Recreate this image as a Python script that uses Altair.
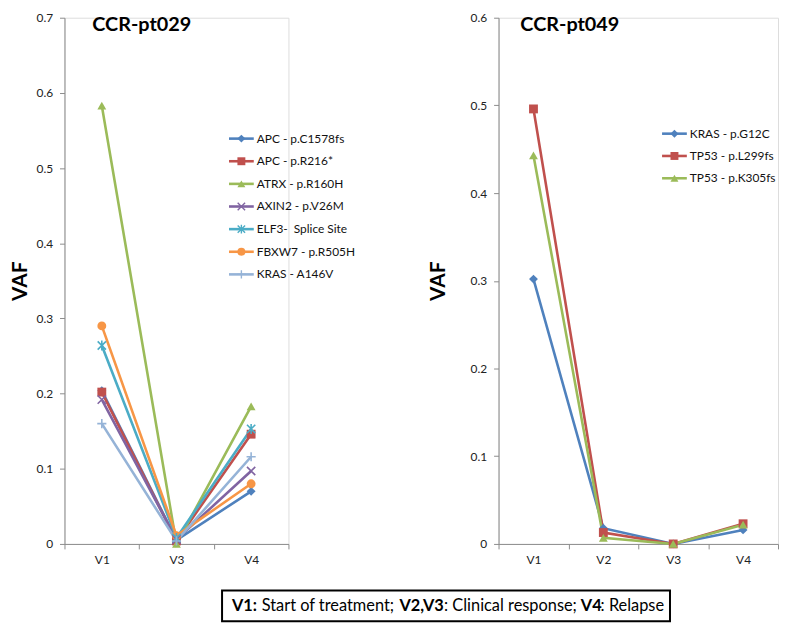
import altair as alt
import pandas as pd

# ---------------- data ----------------
left_series = ["APC - p.C1578fs", "APC - p.R216*", "ATRX - p.R160H", "AXIN2 - p.V26M",
               "ELF3-\u00a0 Splice Site", "FBXW7 - p.R505H", "KRAS - A146V"]
left_visits = ["V1", "V3", "V4"]
left_vaf = {
    "APC - p.C1578fs":         [0.204, 0.005, 0.070],
    "APC - p.R216*":           [0.202, 0.004, 0.146],
    "ATRX - p.R160H":          [0.583, 0.000, 0.183],
    "AXIN2 - p.V26M":          [0.192, 0.006, 0.097],
    "ELF3-\u00a0 Splice Site": [0.264, 0.008, 0.153],
    "FBXW7 - p.R505H":         [0.290, 0.011, 0.080],
    "KRAS - A146V":            [0.160, 0.004, 0.116],
}
left_colors = ["#4F81BD", "#C0504D", "#9BBB59", "#8064A2", "#4BACC6", "#F79646", "#95B3D7"]

right_series = ["KRAS - p.G12C", "TP53 - p.L299fs", "TP53 - p.K305fs"]
right_visits = ["V1", "V2", "V3", "V4"]
right_vaf = {
    "KRAS - p.G12C":   [0.302, 0.018, 0.000, 0.016],
    "TP53 - p.L299fs": [0.496, 0.013, 0.000, 0.023],
    "TP53 - p.K305fs": [0.443, 0.007, 0.000, 0.022],
}
right_colors = ["#4F81BD", "#C0504D", "#9BBB59"]

left_y_ticks = [0, 0.1, 0.2, 0.3, 0.4, 0.5, 0.6, 0.7]
right_y_ticks = [0, 0.1, 0.2, 0.3, 0.4, 0.5, 0.6]

# marker shapes (Excel style)
X_PATH = "M-1,-1L1,1M-1,1L1,-1"
AST_PATH = "M-1,-1L1,1M-1,1L1,-1M0,-1.2L0,1.2"
PLUS_PATH = "M-1.1,0L1.1,0M0,-1.1L0,1.1"
left_shapes = ["diamond", "square", "triangle-up", X_PATH, AST_PATH, "circle", PLUS_PATH]
left_filled = [True, True, True, False, False, True, False]
right_shapes = ["diamond", "square", "triangle-up"]
right_filled = [True, True, True]

FONT = "Lato"
AXIS_COLOR = "#8C8C8C"


def long_df(series, visits, vaf, filled):
    rows = []
    for i, s in enumerate(series):
        for v, val in zip(visits, vaf[s]):
            rows.append({"series": s, "visit": v, "vaf": val, "filled": filled[i], "idx": i})
    return pd.DataFrame(rows)


def panel(series, visits, vaf, colors, shapes, filled, yticks, ymax,
          title, title_x, legend_range, leg_x, title_pad):
    df = long_df(series, visits, vaf, filled)
    color = alt.Color("series:N", scale=alt.Scale(domain=series, range=colors), legend=None)
    shape = alt.Shape("series:N", scale=alt.Scale(domain=series, range=shapes), legend=None)
    x = alt.X("visit:N", sort=visits, title=None,
              scale=alt.Scale(type="band", domain=visits, paddingInner=0, paddingOuter=0),
              axis=alt.Axis(labelAngle=0, tickBand="extent", domainColor=AXIS_COLOR,
                            tickColor=AXIS_COLOR, tickSize=5, labelPadding=6,
                            labelFont=FONT, labelFontSize=12, labelColor="#222", grid=False))
    y = alt.Y("vaf:Q", title="VAF",
              scale=alt.Scale(domain=[0, ymax], nice=False, zero=True),
              axis=alt.Axis(values=yticks, labelExpr="datum.value == 0 ? '0' : format(datum.value, '.1f')",
                            domainColor=AXIS_COLOR, tickColor=AXIS_COLOR, tickSize=5,
                            labelPadding=7, labelFont=FONT, labelFontSize=12, labelColor="#222",
                            titleFont=FONT, titleFontSize=21, titleFontWeight="bold",
                            titleColor="#000", titlePadding=title_pad, grid=False))
    base = alt.Chart(df)
    lines = base.mark_line(strokeWidth=2.6).encode(x=x, y=y, color=color, detail="series:N",
                                                   order=alt.Order("idx:Q"))
    pts_f = base.transform_filter("datum.filled").mark_point(
        filled=True, opacity=1, size=80).encode(x=x, y=y, color=color, shape=shape)
    pts_s = base.transform_filter("!datum.filled").mark_point(
        filled=False, opacity=1, size=70, strokeWidth=1.6).encode(x=x, y=y, color=color, shape=shape)
    main = alt.layer(lines, pts_f, pts_s)

    # legend
    ldf = pd.DataFrame({"series": series, "filled": filled})
    ly = alt.Y("series:N", sort=series, axis=None,
               scale=alt.Scale(type="point", domain=series, range=legend_range, padding=0))
    lbase = alt.Chart(ldf)
    lrule = lbase.mark_rule(strokeWidth=2.6).encode(
        x=alt.value(leg_x), x2=alt.value(leg_x + 25), y=ly, color=color)
    lpf = lbase.transform_filter("datum.filled").mark_point(filled=True, opacity=1, size=64).encode(
        x=alt.value(leg_x + 12.5), y=ly, color=color, shape=shape)
    lps = lbase.transform_filter("!datum.filled").mark_point(filled=False, opacity=1, size=56,
                                                            strokeWidth=1.4).encode(
        x=alt.value(leg_x + 12.5), y=ly, color=color, shape=shape)
    ltext = lbase.mark_text(align="left", baseline="middle", font=FONT, fontSize=12,
                            color="#111").encode(x=alt.value(leg_x + 28), y=ly, text="series:N")
    legend = alt.layer(lrule, lpf, lps, ltext)

    tdf = pd.DataFrame({"t": [title]})
    ttl = alt.Chart(tdf).mark_text(align="left", baseline="alphabetic", font=FONT, fontSize=20,
                                   fontWeight="bold", color="#000").encode(
        x=alt.value(title_x), y=alt.value(13), text="t:N")

    return [main, legend, ttl]


HEIGHT = 531
left_layers = panel(left_series, left_visits, left_vaf, left_colors, left_shapes, left_filled,
                    left_y_ticks, 0.7, "CCR-pt029", 28, [122, 259], 166, 6)
right_layers = panel(right_series, right_visits, right_vaf, right_colors, right_shapes, right_filled,
                     right_y_ticks, 0.6, "CCR-pt049", 22, [117, 162], 165, 22)

# footnote (bold / regular segments)
foot_text = ["V1:", "Start of treatment;", "V2,V3", ": Clinical response;", "V4", ": Relapse"]
foot_bold = [True, False, True, False, True, False]
foot_x = [169, 199, 338, 383, 521, 541]
foot_box = alt.Chart(pd.DataFrame({"t": [""]})).mark_rect(
    fill="white", stroke="#000", strokeWidth=2).encode(
    x=alt.value(159), x2=alt.value(611), y=alt.value(578), y2=alt.value(609))
foot_layers = [foot_box]
for t, b, fx in zip(foot_text, foot_bold, foot_x):
    foot_layers.append(
        alt.Chart(pd.DataFrame({"t": [t]})).mark_text(
            align="left", baseline="alphabetic", font=FONT, fontSize=16.5,
            fontWeight="bold" if b else "normal", color="#000").encode(
            x=alt.value(fx), y=alt.value(599), text="t:N"))

left = alt.layer(*left_layers, *foot_layers).resolve_scale(y="independent").properties(
    width=226, height=HEIGHT)
right = alt.layer(*right_layers).resolve_scale(y="independent").properties(
    width=282, height=HEIGHT)

chart = alt.hconcat(left, right, spacing=212, bounds="flush").resolve_scale(
    color="independent", shape="independent", x="independent", y="independent"
).properties(padding=0).configure_view(stroke=None).configure(background="white")

chart.save("out.html", embed_options={"renderer": "svg", "actions": False})
